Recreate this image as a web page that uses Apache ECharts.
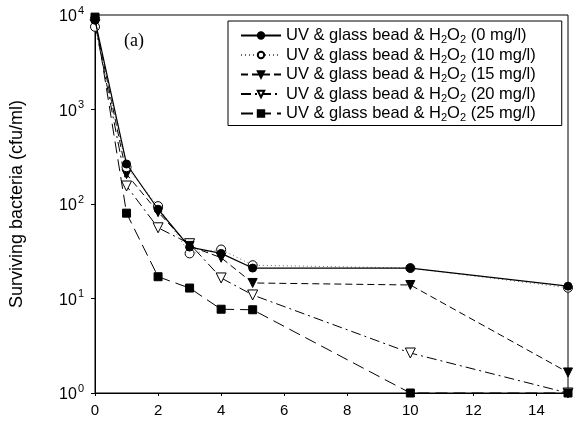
<!DOCTYPE html>
<html>
<head>
<meta charset="utf-8">
<script src="https://cdn.jsdelivr.net/npm/echarts@6/dist/echarts.min.js"></script>
<style>
html,body{margin:0;padding:0;background:#fff;}
#c{width:581px;height:427px;}
</style>
</head>
<body>
<div id="c"></div>
<script>
const times = [0, 1, 2, 3, 4, 5, 10, 15];
const h2o2_0  = [8800, 265, 88, 35, 30, 21, 21, 13.5];
const h2o2_10 = [7500, 245, 95, 30, 33, 22.5, 21, 13];
const h2o2_15 = [8500, 207, 82, 36, 27, 14.6, 13.9, 1.65];
const h2o2_20 = [8000, 155, 56, 38, 16.5, 10.9, 2.65, 1.0];
const h2o2_25 = [9500, 80, 17, 12.9, 7.7, 7.6, 1.0, 1.0];
const doses = ['0', '10', '15', '20', '25'];
const xTicks = [0, 2, 4, 6, 8, 10, 12, 14];
const yTickExponents = [0, 1, 2, 3, 4];

const pairs = (ys) => times.map((t, i) => [t, ys[i]]);
const tri = 'path://M0,0 L10,0 L5,9 Z';
const names = doses.map(d => 'UV & glass bead & H2O2 (' + d + ' mg/l)');

const chart = echarts.init(document.getElementById('c'), null, {renderer: 'canvas'});

function mk(name, data, symbol, size, filled, lineType, lineWidth, lineColor, z) {
  return {
    name: name, type: 'line', data: pairs(data),
    symbol: symbol, symbolSize: size, showSymbol: true,
    lineStyle: {color: lineColor, width: lineWidth, type: lineType},
    itemStyle: filled ? {color: '#000', borderColor: '#000', borderWidth: 1}
                      : {color: '#fff', borderColor: '#000', borderWidth: 1},
    emphasis: {disabled: true}, animation: false, z: z
  };
}

const option = {
  animation: false,
  backgroundColor: '#fff',
  grid: {left: 95, right: 13, top: 15, bottom: 34, show: true, borderColor: '#000', borderWidth: 1},
  xAxis: {
    type: 'value', min: 0, max: 15, interval: 2,
    axisLine: {show: true, lineStyle: {color: '#000', width: 1}},
    axisTick: {show: true, inside: false, length: 3, lineStyle: {color: '#000'}},
    splitLine: {show: false},
    axisLabel: {
      showMaxLabel: false, color: '#000', fontFamily: 'Liberation Sans, Arial',
      fontSize: 15, margin: 10,
      formatter: v => xTicks.indexOf(v) >= 0 ? String(v) : ''
    }
  },
  yAxis: {
    type: 'log', logBase: 10, min: 1, max: 10000,
    name: 'Surviving bacteria (cfu/ml)', nameLocation: 'middle', nameGap: 69,
    nameTextStyle: {color: '#000', fontFamily: 'Liberation Sans, Arial', fontSize: 18},
    axisLine: {show: true, lineStyle: {color: '#000', width: 1}},
    axisTick: {show: true, inside: false, length: 4, lineStyle: {color: '#000'}},
    splitLine: {show: false},
    minorTick: {show: false},
    axisLabel: {
      color: '#000', margin: 11,
      formatter: v => {
        const e = Math.round(Math.log10(v));
        return yTickExponents.indexOf(e) >= 0 ? '{b|10}{s|' + e + '}' : '';
      },
      rich: {
        b: {fontSize: 16, fontFamily: 'Liberation Sans, Arial', color: '#000', lineHeight: 20, verticalAlign: 'bottom'},
        s: {fontSize: 11, fontFamily: 'Liberation Sans, Arial', color: '#000', lineHeight: 20, verticalAlign: 'top', padding: [0, 0, 7, 1]}
      }
    }
  },
  legend: {
    orient: 'vertical', left: 228, top: 21,
    padding: [6, 26, 2, 12], itemGap: 1, itemWidth: 40, itemHeight: 8,
    borderColor: '#000', borderWidth: 1, backgroundColor: '#fff',
    data: names,
    formatter: n => {
      const d = n.match(/\((\d+) mg/)[1];
      return '{a|UV & glass bead & H}{s|2}{a|O}{s|2}{a| (' + d + ' mg/l)}';
    },
    textStyle: {
      color: '#000',
      rich: {
        a: {fontSize: 16.5, fontFamily: 'Liberation Sans, Arial', color: '#000', lineHeight: 20, verticalAlign: 'middle'},
        s: {fontSize: 11, fontFamily: 'Liberation Sans, Arial', color: '#000', lineHeight: 10, verticalAlign: 'bottom'}
      }
    }
  },
  graphic: [{
    type: 'text', left: 124, top: 32,
    style: {text: '(a)', fontSize: 18, fontFamily: 'Liberation Serif, Times New Roman', fill: '#000'}
  }],
  series: [
    mk(names[0], h2o2_0, 'circle', 8, true, 'solid', 1.2, '#000', 5),
    mk(names[1], h2o2_10, 'circle', 9, false, [1, 3], 1, '#666', 4),
    mk(names[2], h2o2_15, tri, 9, true, [7, 4], 1, '#000', 3),
    mk(names[3], h2o2_20, tri, 10, false, [10, 4, 2, 4], 1, '#000', 2),
    mk(names[4], h2o2_25, 'rect', 8, true, [12, 6], 1, '#000', 6)
  ]
};
chart.setOption(option);
</script>
</body>
</html>
